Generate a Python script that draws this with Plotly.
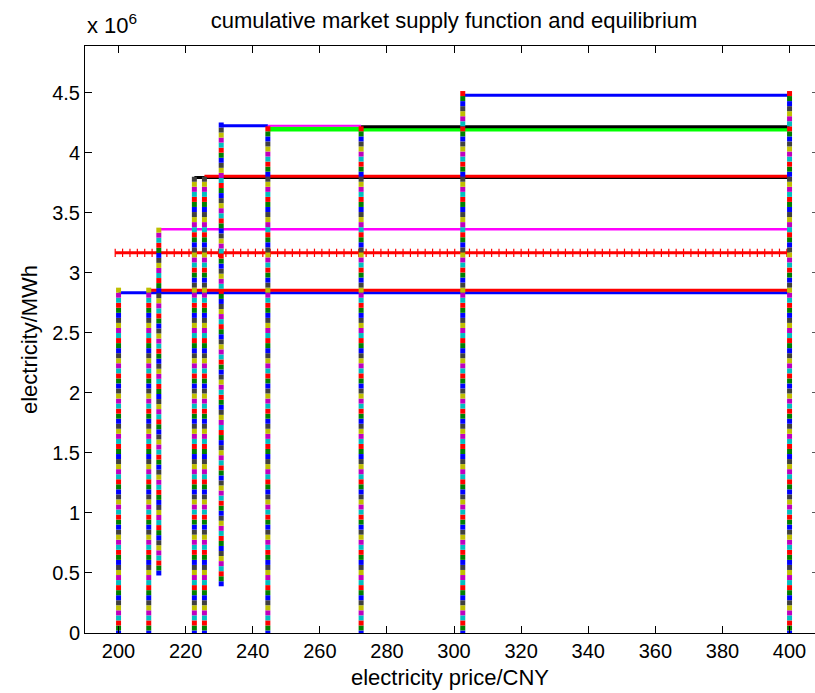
import numpy as np
import plotly.graph_objects as go

# Prices (CNY) at which the cumulative supply steps up, with the span of each step
step_price = [200, 209, 212, 222.6, 225.6, 230.6, 244.5, 272.3, 302.6, 400]
step_low = [0, 0, 0.50e6, 0, 0, 0.41e6, 0, 0, 0, 0]
step_high = [2.84e6, 2.85e6, 3.36e6, 3.80e6, 3.80e6, 4.22e6, 4.22e6, 4.22e6, 4.48e6, 4.48e6]

# Horizontal supply levels (MWh), drawn in this order
level_start = [244.5, 200, 209, 199, 212, 222.6, 225.6, 230.6, 244.5, 272.3, 302.6]
level_end = [400, 400, 400, 400, 400, 400, 400, 244.5, 272.3, 400, 400]
level_qty = [4.198e6, 2.835e6, 2.855e6, 3.167e6, 3.364e6, 3.795e6, 3.805e6,
             4.225e6, 4.225e6, 4.217e6, 4.48e6]
level_color = ["#00ff00", "#0000ff", "#ff0000", "#ff0000", "#ff00ff", "#000000",
               "#ff0000", "#0000ff", "#ff00ff", "#000000", "#0000ff"]
level_width = [5, 3, 3, 3, 2.5, 3, 3, 3, 2, 3, 3]

# MATLAB default colour order used for the stacked vertical markers
color_order = ["#0000ff", "#008000", "#ff0000", "#00bfbf", "#bf00bf", "#bfbf00", "#404040"]

y_ticks = [0, 0.5e6, 1e6, 1.5e6, 2e6, 2.5e6, 3e6, 3.5e6, 4e6, 4.5e6]
y_ticktext = ["0", "0.5", "1", "1.5", "2", "2.5", "3", "3.5", "4", "4.5"]
x_ticks = [200, 220, 240, 260, 280, 300, 320, 340, 360, 380, 400]

FONT = "Liberation Sans, Arial, sans-serif"
Y_MAX = 4.89e6

fig = go.Figure()

for x0, x1, q, c, w in zip(level_start, level_end, level_qty, level_color, level_width):
    fig.add_trace(go.Scatter(x=[x0, x1], y=[q, q], mode="lines",
                             line=dict(color=c, width=w), showlegend=False,
                             hoverinfo="skip"))

# '+' marks along the equilibrium demand level
eq_idx = 3
mx = np.arange(level_start[eq_idx], level_end[eq_idx], 2.2)
fig.add_trace(go.Scatter(x=mx, y=[level_qty[eq_idx]] * len(mx), mode="markers",
                         marker=dict(symbol="line-ns", size=6,
                                     line=dict(color="#ff0000", width=1.2)),
                         showlegend=False, hoverinfo="skip"))

# vertical steps: dense square markers cycling through the colour order
dy = 0.042e6
for p, lo, hi in zip(step_price, step_low, step_high):
    ys = np.arange(lo, hi + dy * 0.5, dy)
    cols = [color_order[i % len(color_order)] for i in range(len(ys))]
    fig.add_trace(go.Scatter(x=[p] * len(ys), y=ys, mode="markers",
                             marker=dict(symbol="square", size=5, color=cols,
                                         line=dict(width=0)),
                             showlegend=False, hoverinfo="skip"))

# invisible trace so the right-hand tick axis is rendered
fig.add_trace(go.Scatter(x=[step_price[0]], y=[0], yaxis="y2", mode="markers",
                         marker=dict(opacity=0), showlegend=False, hoverinfo="skip"))

fig.update_layout(
    width=815, height=693,
    margin=dict(l=85, r=0, t=46, b=60),
    paper_bgcolor="white", plot_bgcolor="white",
    font=dict(family=FONT, size=20, color="#000000"),
    title=dict(text="cumulative market supply function and equilibrium",
               x=(454 / 815), xanchor="center", y=1 - 20 / 693, yanchor="middle",
               font=dict(size=22, family=FONT)),
    xaxis=dict(range=[190, 190 + 730 / 3.355], tickvals=x_ticks,
               ticks="inside", ticklen=7, tickcolor="#000000", tickwidth=1,
               showline=True, linecolor="#000000", linewidth=1, mirror="ticks",
               showgrid=False, zeroline=False,
               title=dict(text="electricity price/CNY", standoff=8,
                          font=dict(size=22, family=FONT)),
               tickfont=dict(size=20, family=FONT)),
    yaxis=dict(range=[0, Y_MAX], tickvals=y_ticks, ticktext=y_ticktext,
               ticks="inside", ticklen=7, tickcolor="#000000", tickwidth=1,
               showline=True, linecolor="#000000", linewidth=1,
               showgrid=False, zeroline=False,
               title=dict(text="electricity/MWh", standoff=8,
                          font=dict(size=22, family=FONT)),
               tickfont=dict(size=20, family=FONT)),
    yaxis2=dict(range=[0, Y_MAX], tickvals=y_ticks, showticklabels=False,
                overlaying="y", side="right", anchor="x",
                ticks="inside", ticklen=3, tickcolor="#555555",
                showline=False, showgrid=False, zeroline=False),
)

fig.add_annotation(text="x 10<sup>6</sup>", xref="paper", yref="paper",
                   x=0, y=1, xanchor="left", yanchor="bottom", yshift=6,
                   showarrow=False, font=dict(size=22, family=FONT))

fig.write_html("out.html")
